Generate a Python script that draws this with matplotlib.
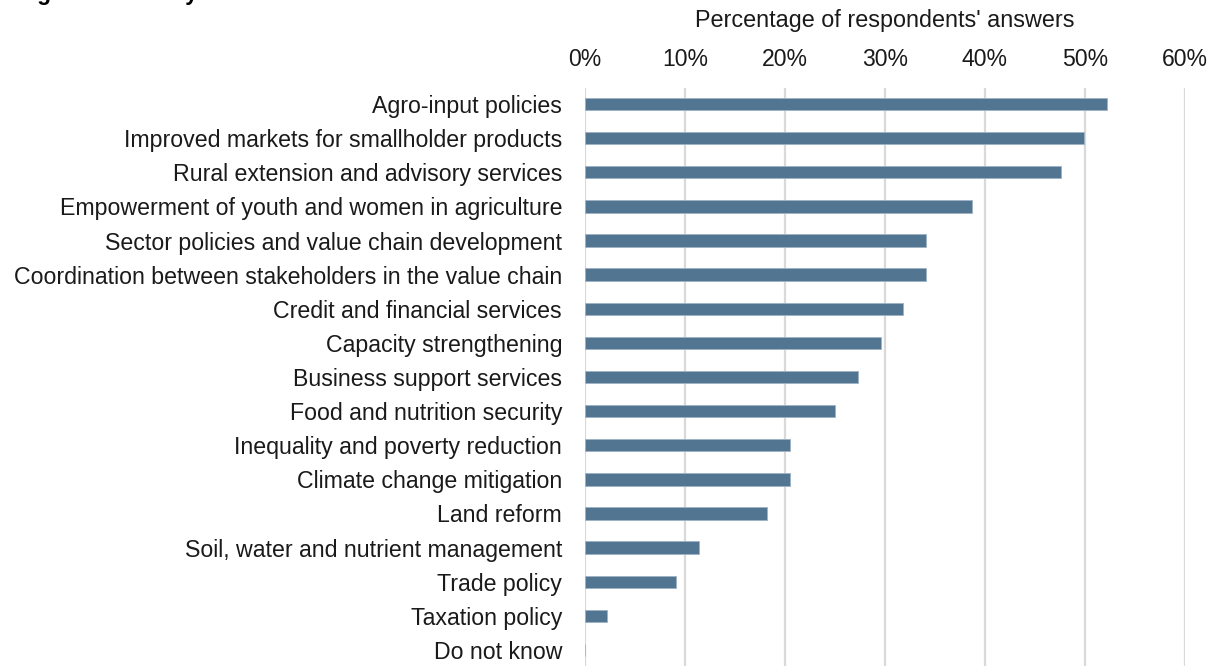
import matplotlib
matplotlib.use("Agg")
import matplotlib.pyplot as plt
from matplotlib.ticker import PercentFormatter

categories = [
    "Agro-input policies",
    "Improved markets for smallholder products",
    "Rural extension and advisory services",
    "Empowerment of youth and women in agriculture",
    "Sector policies and value chain development",
    "Coordination between stakeholders in the value chain",
    "Credit and financial services",
    "Capacity strengthening",
    "Business support services",
    "Food and nutrition security",
    "Inequality and poverty reduction",
    "Climate change mitigation",
    "Land reform",
    "Soil, water and nutrient management",
    "Trade policy",
    "Taxation policy",
    "Do not know",
]
values = [52.2, 49.9, 47.6, 38.7, 34.1, 34.1, 31.8, 29.6, 27.3, 25.0,
          20.5, 20.5, 18.2, 11.4, 9.1, 2.2, 0.0]
xticks = [0, 10, 20, 30, 40, 50, 60]

W, H = 1227, 666
fig = plt.figure(figsize=(W / 100, H / 100), dpi=100)
plt.rcParams['font.family'] = ['Liberation Sans', 'DejaVu Sans']

ax = fig.add_axes([585 / W, 0, 600 / W, 1 - 88 / H])
ypos = list(range(len(categories)))
ax.barh(ypos, values, height=0.36, color="#527591", edgecolor="#9fb3c5",
        linewidth=0.6, zorder=3)
ax.set_ylim(len(categories) - 1 + 0.47, -0.47)
ax.set_xlim(0, 60)
ax.set_xticks(xticks)
ax.xaxis.set_major_formatter(PercentFormatter(decimals=0))
ax.xaxis.tick_top()
ax.xaxis.set_label_position("top")
ax.set_xlabel("Percentage of respondents' answers", fontsize=16.8,
              color="#1a1a1a", labelpad=15)
ax.tick_params(axis="x", length=0, labelsize=16.6, pad=12.5, colors="#1a1a1a")
ax.tick_params(axis="y", length=0, labelsize=16.65, pad=16.5, colors="#1a1a1a")
ax.set_yticks(ypos)
ax.set_yticklabels(categories)
ax.grid(axis="x", color="#d9d9d9", linewidth=1.6, zorder=0)
for s in ax.spines.values():
    s.set_visible(False)

fig.text(17 / W, 1.0, "Figure 5: Priority areas", fontsize=16.3,
         fontweight="bold", va="baseline", ha="left", color="black")

fig.savefig("out.png", dpi=100)
